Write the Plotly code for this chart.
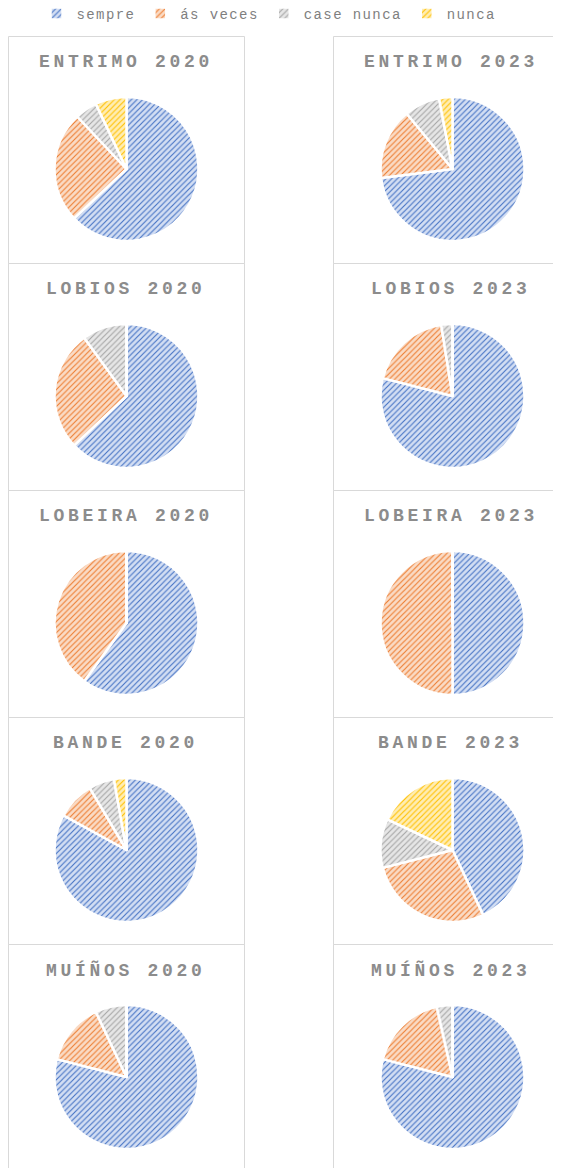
import plotly.graph_objects as go

# ---------------- data ----------------
categories = ["sempre", "ás veces", "case nunca", "nunca"]
places = ["ENTRIMO", "LOBIOS", "LOBEIRA", "BANDE", "MUÍÑOS"]
years = ["2020", "2023"]

entrimo_2020 = [63, 25, 5, 7]
entrimo_2023 = [73, 16, 8, 3]
lobios_2020 = [63, 27, 10, 0]
lobios_2023 = [79, 18.5, 2.5, 0]
lobeira_2020 = [60, 40, 0, 0]
lobeira_2023 = [50, 50, 0, 0]
bande_2020 = [83, 8.5, 5.7, 2.8]
bande_2023 = [43, 28, 11, 18]
muinos_2020 = [79, 14, 7, 0]
muinos_2023 = [79, 17.5, 3.5, 0]

series_2020 = [entrimo_2020, lobios_2020, lobeira_2020, bande_2020, muinos_2020]
series_2023 = [entrimo_2023, lobios_2023, lobeira_2023, bande_2023, muinos_2023]

# ---------------- style ----------------
colors = ["#4472C4", "#ED7D31", "#A5A5A5", "#FFC000"]
bgcolors = ["#D3DEF3", "#FADBC5", "#E6E6E6", "#FFEDB3"]
title_color = "#8C8C8C"
legend_color = "#7F7F7F"
box_color = "#D9D9D9"
mono = "Liberation Mono, Courier New, monospace"

# page body has an 8px margin: the figure starts at (8, 8) in the window
OFF = 8
W, H = 561 - OFF, 1168 - OFF


def fx(px):
    return (px - OFF) / W


def fy(py):
    return 1 - (py - OFF) / H


col_cx = [126.5, 452.5]
title_cx = [125.5, 450.5]
row_cy0 = 169
row_step = 227
R = 72
title_y0 = 62
box_top0 = 36.5
box_x = [(8.5, 244.5), (333.5, 575)]

legend_labels = [
    '<span style="letter-spacing:1.4px">%s</span>' % c for c in categories
]

fig = go.Figure()
annotations = []
shapes = []

for r, place in enumerate(places):
    for c, year in enumerate(years):
        vals = (series_2020 if c == 0 else series_2023)[r]
        cx = col_cx[c]
        cy = row_cy0 + r * row_step
        fig.add_trace(
            go.Pie(
                labels=legend_labels,
                values=vals,
                sort=False,
                direction="clockwise",
                rotation=0,
                textinfo="none",
                hoverinfo="label+percent",
                showlegend=(r == 0 and c == 0),
                domain=dict(
                    x=[fx(cx - R), fx(cx + R)],
                    y=[fy(cy + R), fy(cy - R)],
                ),
                marker=dict(
                    colors=colors,
                    line=dict(color="white", width=2.5),
                    pattern=dict(
                        shape="/",
                        fgcolor=colors,
                        bgcolor=bgcolors,
                        size=4,
                        solidity=0.28,
                        fillmode="replace",
                    ),
                ),
            )
        )
        annotations.append(
            dict(
                text='<span style="letter-spacing:3.7px"><b>%s %s</b></span>' % (place, year),
                x=fx(title_cx[c]),
                y=fy(title_y0 + r * row_step),
                xref="paper",
                yref="paper",
                xanchor="center",
                yanchor="middle",
                showarrow=False,
                font=dict(family=mono, size=18, color=title_color),
            )
        )
        x0, x1 = box_x[c]
        shapes.append(
            dict(
                type="rect",
                xref="paper",
                yref="paper",
                x0=fx(x0),
                x1=fx(x1),
                y0=fy(box_top0 + r * row_step),
                y1=fy(box_top0 + (r + 1) * row_step),
                line=dict(color=box_color, width=1),
                fillcolor="rgba(0,0,0,0)",
                layer="below",
            )
        )

fig.update_layout(
    width=W,
    height=H,
    margin=dict(l=0, r=0, t=0, b=0, autoexpand=False),
    paper_bgcolor="white",
    plot_bgcolor="white",
    annotations=annotations,
    shapes=shapes,
    showlegend=True,
    legend=dict(
        orientation="h",
        x=fx(269),
        xanchor="center",
        y=fy(14),
        yanchor="middle",
        font=dict(family=mono, size=14, color=legend_color),
        itemwidth=30,
        traceorder="normal",
        bgcolor="rgba(0,0,0,0)",
    ),
)

fig.write_html("out.html")
